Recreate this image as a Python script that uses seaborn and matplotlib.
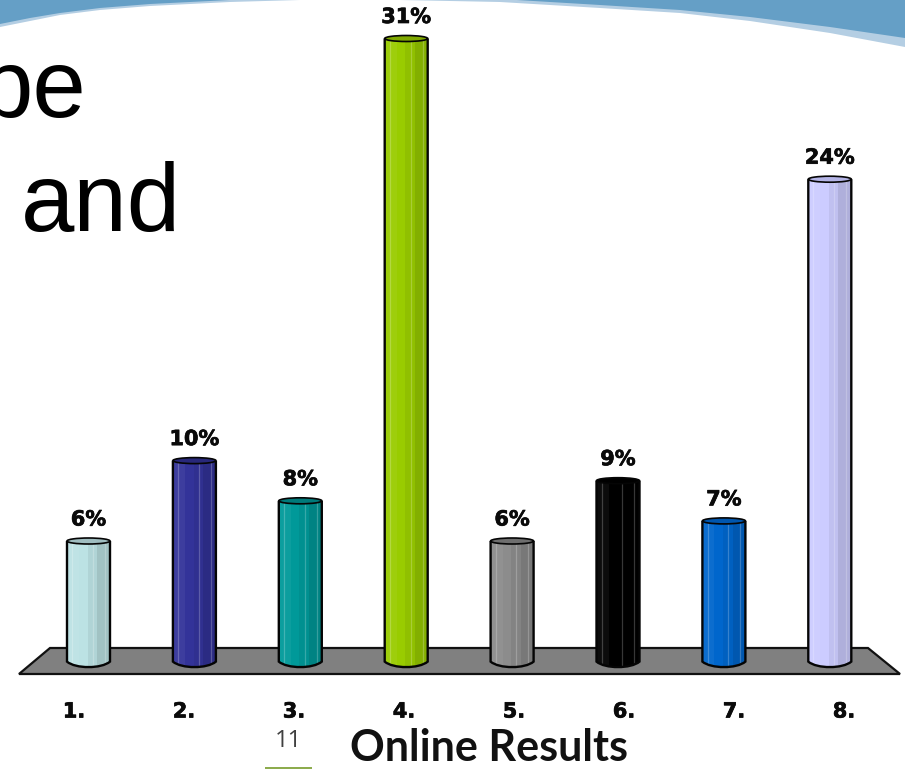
import numpy as np
import pandas as pd
import seaborn as sns
import matplotlib
matplotlib.use("Agg")
import matplotlib.pyplot as plt
import matplotlib.patheffects as pe
from matplotlib.patches import Ellipse, PathPatch, Polygon
from matplotlib.path import Path

# ---- data ----
options = ["1.", "2.", "3.", "4.", "5.", "6.", "7.", "8."]
shares = [6, 10, 8, 31, 6, 9, 7, 24]
bar_colors = ["#BCE2E4", "#333399", "#009999", "#99CC00",
              "#8C8C8C", "#000000", "#0066CC", "#CCCCFF"]
top_colors = ["#9FBDC0", "#28287A", "#007A7A", "#7FA800",
              "#6E6E6E", "#000000", "#0056AE", "#B4B4E6"]
title_fragments = ["be", "and"]
footer_title = "Online Results"
page_number = "11"

W, H = 905, 769
sns.set_theme(style="white")
fig = plt.figure(figsize=(W / 100, H / 100), dpi=100, facecolor="white")
heavy = [pe.withStroke(linewidth=0.5, foreground="#0a0a0a")]

# ---- decoration layer in pixel space ----
deco = fig.add_axes([0, 0, 1, 1], zorder=0)
deco.set_xlim(0, W)
deco.set_ylim(H, 0)
deco.axis("off")

band_x = [0, 30, 60, 100, 150, 230, 300, 400, 500, 600, 680, 750, 830, 905]
band_edge = [24, 18, 13, 8, 4, 0, -3, -4, -1, 5, 10, 17, 27, 38]
pale_edge = [27, 21, 15, 10, 6, 2, 0, 0, 2, 8, 13, 21, 33, 47]
band_poly = [(0, -5)] + list(zip(band_x, band_edge)) + [(W, -5)]
pale_poly = [(0, -5)] + list(zip(band_x, pale_edge)) + [(W, -5)]
deco.add_patch(Polygon(pale_poly, closed=True, fc="#B4CEE3", ec="none", zorder=1))
deco.add_patch(Polygon(band_poly, closed=True, fc="#659FC6", ec="none", zorder=2))

deco.add_patch(Polygon([(19, 674), (50, 648), (868, 648), (900, 674)], closed=True,
                       fc="#808080", ec="#111111", lw=1.6, zorder=3))

deco.text(87, 117, title_fragments[0], ha="right", va="baseline", fontsize=69,
          family="Liberation Sans", color="black", zorder=4)
deco.text(21, 231, title_fragments[1], ha="left", va="baseline", fontsize=69,
          family="Liberation Sans", color="black", zorder=4)
deco.text(288, 741, page_number, ha="center", va="center", fontsize=17,
          family="Open Sans", color="#404040")
deco.plot([265, 312], [767.5, 767.5], color="#8AAA4A", lw=1.4, solid_capstyle="butt")
deco.text(489, 761, footer_title, ha="center", va="baseline", fontsize=31,
          family="Lato", weight="bold", color="#111111")

# ---- bars ----
ax = fig.add_axes([0, 0, 1, 1], zorder=2)
ax.patch.set_alpha(0)
px_per_cat, x0 = 105.9, 88.5
px_per_pct, y0 = 20.1, 661.6

df = pd.DataFrame({"option": options, "share": shares})
bar_w = 43 / px_per_cat
sns.barplot(data=df, x="option", y="share", hue="option", order=options,
            hue_order=options, palette=bar_colors, width=bar_w, dodge=False,
            saturation=1, linewidth=0, legend=False, ax=ax, zorder=4)
ax.set_xlim(-x0 / px_per_cat, (W - x0) / px_per_cat)
ax.set_ylim((y0 - H) / px_per_pct, y0 / px_per_pct)

foot = 5.5 / px_per_pct      # depth of the rounded base
cap_h = 6 / px_per_pct       # height of the top ellipse

for i, (v, c, tc) in enumerate(zip(shares, bar_colors, top_colors)):
    l, r = i - bar_w / 2, i + bar_w / 2
    ctrl = foot / 0.75
    outline = Path(
        [(l, v), (l, 0), (l + bar_w * 0.2, -ctrl), (r - bar_w * 0.2, -ctrl), (r, 0), (r, v)],
        [Path.MOVETO, Path.LINETO, Path.CURVE4, Path.CURVE4, Path.CURVE4, Path.LINETO],
    )
    solid = Path(list(outline.vertices) + [(l, v)], list(outline.codes) + [Path.CLOSEPOLY])
    ax.add_patch(PathPatch(solid, fc=c, ec="none", zorder=4))
    clip = PathPatch(solid, transform=ax.transData)
    # vertical shading facets of the cylinder
    for f0, f1, shade, a in [(-0.5, -0.22, "white", 0.05), (-0.02, 0.2, "black", 0.06),
                             (0.2, 0.5, "black", 0.14)]:
        s = ax.bar(i + (f0 + f1) / 2 * bar_w, v + foot, width=(f1 - f0) * bar_w,
                   bottom=-foot, color=shade, alpha=a, linewidth=0, zorder=5)
        s[0].set_clip_path(clip)
    for f in (-0.38, 0.1, 0.38):
        g = ax.vlines(i + f * bar_w, -foot, v, color="white", alpha=0.22, lw=0.9, zorder=5)
        g.set_clip_path(clip)
    ax.add_patch(PathPatch(outline, fc="none", ec="#050505", lw=1.7, zorder=6))
    ax.add_patch(Ellipse((i, v), bar_w, cap_h, fc=tc, ec="#050505", lw=1.2, zorder=7))
    ax.text(i, v + 21.5 / px_per_pct, f"{v}%", ha="center", va="center", path_effects=heavy,
            fontsize=15, weight="bold", family="DejaVu Sans", color="#0a0a0a", zorder=8)

ax.set_xticks([])
ax.set_yticks([])
ax.set_xlabel("")
ax.set_ylabel("")
sns.despine(ax=ax, left=True, bottom=True)

# ---- category labels: their own axis, spaced apart from the bars as in the source ----
lab = fig.add_axes([0, (H - 689) / H, 1, 0.001], zorder=3)
lab.patch.set_alpha(0)
lab.set_xlim(-74 / 110, (W - 74) / 110)
lab.set_xticks(range(len(options)))
lab.set_xticklabels(options, fontsize=15, weight="bold", family="DejaVu Sans",
                    color="#0a0a0a", path_effects=heavy)
lab.tick_params(axis="x", length=0, pad=9)
lab.set_yticks([])
for sp in lab.spines.values():
    sp.set_visible(False)

fig.savefig("out.png", dpi=100)
